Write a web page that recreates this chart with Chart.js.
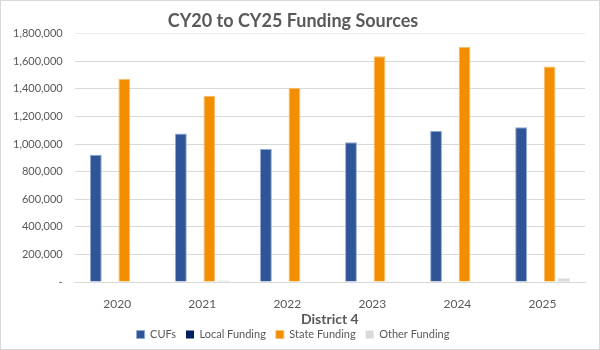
<!DOCTYPE html>
<html>
<head>
<meta charset="utf-8">
<script src="https://cdn.jsdelivr.net/npm/chart.js@4"></script>
<style>
	html, body {
		margin: 0;
		padding: 0;
		background: #ffffff;
	}
	#wrap {
		position: relative;
		width: 598px;
		height: 348px;
		border: 1px solid #d9d9d9;
	}
</style>
</head>
<body>
<div id="wrap"><canvas id="chart"></canvas></div>
<script>
const categories = ['2020', '2021', '2022', '2023', '2024', '2025'];
const cufs = [923000, 1076000, 963000, 1012000, 1095000, 1122000];
const localFunding = [0, 0, 0, 0, 0, 0];
const stateFunding = [1472000, 1349000, 1407000, 1635000, 1705000, 1562000];
const otherFunding = [0, 9000, 0, 2000, 0, 26000];
const yTicks = [0, 200000, 400000, 600000, 800000, 1000000, 1200000, 1400000, 1600000, 1800000];

const textColor = '#595959';
const fontFamily = 'Lato, "Open Sans", sans-serif';

new Chart(document.getElementById('chart'), {
	type: 'bar',
	data: {
		labels: categories,
		datasets: [
			{label: 'CUFs', data: cufs, backgroundColor: '#2f5597', borderColor: '#8fa9d6', borderWidth: 1},
			{label: 'Local Funding', data: localFunding, backgroundColor: '#002060'},
			{label: 'State Funding', data: stateFunding, backgroundColor: '#f28e00', borderColor: '#f8c070', borderWidth: 1},
			{label: 'Other Funding', data: otherFunding, backgroundColor: '#d9d9d9'},
		],
	},
	options: {
		responsive: true,
		maintainAspectRatio: false,
		animation: false,
		layout: {padding: {left: 0, right: 14, top: 9, bottom: -1}},
		datasets: {
			bar: {categoryPercentage: 0.67, barPercentage: 0.83},
		},
		plugins: {
			title: {
				display: true,
				text: 'CY20 to CY25 Funding Sources',
				color: textColor,
				font: {family: fontFamily, size: 18, weight: 'bold'},
				padding: {top: 0, bottom: 2},
			},
			legend: {
				position: 'bottom',
				labels: {
					color: textColor,
					font: {family: fontFamily, size: 11},
					boxWidth: 8,
					boxHeight: 8,
					padding: 10,
				},
			},
			tooltip: {enabled: false},
		},
		scales: {
			x: {
				grid: {display: false},
				border: {color: '#d9d9d9'},
				ticks: {color: textColor, font: {family: fontFamily, size: 12, lineHeight: 1}, padding: 8},
				title: {
					display: true,
					text: 'District 4',
					color: textColor,
					font: {family: fontFamily, size: 14, weight: 'bold', lineHeight: 1},
					padding: {top: -6, bottom: -7},
				},
			},
			y: {
				min: 0,
				max: 1800000,
				afterBuildTicks(axis) {
					axis.ticks = yTicks.map(v => ({value: v}));
				},
				grid: {
					drawTicks: false,
					color: ctx => ctx.tick && ctx.tick.value === 1800000 ? '#ebebeb' : '#d9d9d9',
				},
				border: {display: false},
				ticks: {
					color: textColor,
					font: {family: fontFamily, size: 11},
					padding: 12,
					callback: v => v === 0 ? '-' : v.toLocaleString('en-US'),
				},
			},
		},
	},
});
</script>
</body>
</html>
